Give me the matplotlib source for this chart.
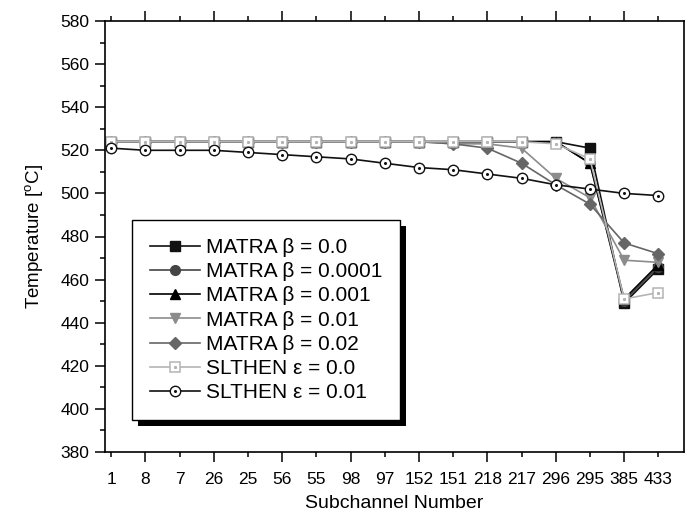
import matplotlib
matplotlib.use("Agg")
import matplotlib.pyplot as plt
from matplotlib.legend_handler import HandlerTuple
from matplotlib.patches import Rectangle

plt.rcParams['font.family'] = ['Liberation Sans', 'DejaVu Sans']
plt.rcParams['mathtext.fontset'] = 'custom'
plt.rcParams['mathtext.rm'] = 'Liberation Sans'

# subchannel labels along x (categorical)
subchannels = ['1', '8', '7', '26', '25', '56', '55', '98', '97', '152',
               '151', '218', '217', '296', '295', '385', '433']

matra_b00 = [524, 524, 524, 524, 524, 524, 524, 524, 524, 524, 524, 524, 524, 524, 521, 449, 465]
matra_b0001 = [524, 524, 524, 524, 524, 524, 524, 524, 524, 524, 524, 524, 524, 524, 514, 450, 466]
matra_b001 = [524, 524, 524, 524, 524, 524, 524, 524, 524, 524, 524, 524, 524, 524, 514, 451, 467]
matra_b01 = [524, 524, 524, 524, 524, 524, 524, 524, 524, 524, 523, 523, 521, 507, 498, 469, 468]
matra_b02 = [524, 524, 524, 524, 524, 524, 524, 524, 524, 524, 523, 521, 514, 504, 495, 477, 472]
slthen_e00 = [524, 524, 524, 524, 524, 524, 524, 524, 524, 524, 524, 524, 524, 523, 516, 451, 454]
slthen_e001 = [521, 520, 520, 520, 519, 518, 517, 516, 514, 512, 511, 509, 507, 504, 502, 500, 499]

x = list(range(1, len(subchannels) + 1))

fig = plt.figure(figsize=(6.9, 5.14), dpi=100)
ax = fig.add_axes([105/690, 1 - 452/514, (684 - 105)/690, (452 - 21)/514])

lw = 1.2
handles = []
h, = ax.plot(x, matra_b00, color='#111111', lw=lw, marker='s', ms=6.5, mec='#111111', mfc='#111111')
handles.append(h)
h, = ax.plot(x, matra_b0001, color='#444444', lw=lw, marker='o', ms=7, mec='#444444', mfc='#444444')
handles.append(h)
h, = ax.plot(x, matra_b001, color='#000000', lw=lw, marker='^', ms=7, mec='#000000', mfc='#000000')
handles.append(h)
h, = ax.plot(x, matra_b01, color='#8c8c8c', lw=lw, marker='v', ms=7.5, mec='#8c8c8c', mfc='#8c8c8c')
handles.append(h)
h, = ax.plot(x, matra_b02, color='#666666', lw=lw, marker='D', ms=6.5, mec='#666666', mfc='#666666')
handles.append(h)
h1, = ax.plot(x, slthen_e00, color='#b4b4b4', lw=lw, marker='s', ms=7, mec='#b4b4b4', mfc='white', mew=1.1)
h2, = ax.plot(x, slthen_e00, ls='none', marker='s', ms=1.2, mec='#b4b4b4', mfc='#b4b4b4')
handles.append((h1, h2))
h1, = ax.plot(x, slthen_e001, color='#111111', lw=lw, marker='o', ms=7.5, mec='#111111', mfc='white', mew=1.0)
h2, = ax.plot(x, slthen_e001, ls='none', marker='o', ms=1.2, mec='#111111', mfc='#111111')
handles.append((h1, h2))

names = ['MATRA \u03b2 = 0.0', 'MATRA \u03b2 = 0.0001', 'MATRA \u03b2 = 0.001',
         'MATRA \u03b2 = 0.01', 'MATRA \u03b2 = 0.02',
         'SLTHEN \u03b5 = 0.0', 'SLTHEN \u03b5 = 0.01']

ax.set_xlim(0.82, 17.75)
ax.set_ylim(380, 580)

# major ticks on even positions, minor on odd, all labelled
even = [i for i in x if i % 2 == 0]
odd = [i for i in x if i % 2 == 1]
ax.set_xticks(even, [subchannels[i - 1] for i in even])
ax.set_xticks(odd, [subchannels[i - 1] for i in odd], minor=True)
ax.set_yticks(range(380, 581, 20))
ax.set_yticks(range(390, 580, 20), minor=True)

ax.tick_params(axis='both', which='major', length=7, width=1.1, direction='out', labelsize=12.5)
ax.tick_params(axis='both', which='minor', length=3.8, width=1.1, direction='out', labelsize=12.5)
ax.tick_params(axis='x', which='major', pad=7.5)
ax.tick_params(axis='x', which='minor', pad=10.7)
ax.tick_params(axis='y', which='major', pad=4.3)
ax.tick_params(axis='x', which='both', top=True)
ax.tick_params(axis='y', which='both', right=False)
for s in ax.spines.values():
    s.set_linewidth(1.2)

ax.set_xlabel('Subchannel Number', fontsize=14, labelpad=6)
ax.set_ylabel('Temperature [$^{\\rm o}$C]', fontsize=13.5, labelpad=10)

leg = ax.legend(handles, names, loc='lower left', bbox_to_anchor=(0.0466, 0.0742),
                borderaxespad=0, fancybox=False, edgecolor='black', framealpha=1,
                fontsize=15, handlelength=2.4, handletextpad=0.3, labelspacing=0.25,
                borderpad=0.85, handler_map={tuple: HandlerTuple(ndivide=1)})
leg.get_frame().set_linewidth(1.0)
leg.set_zorder(5)

# solid black drop shadow behind the legend box
fig.canvas.draw()
bb = leg.get_window_extent().transformed(fig.transFigure.inverted())
off_x = 6 / 690
off_y = 6 / 514
shadow = Rectangle((bb.x0 + off_x, bb.y0 - off_y), bb.width, bb.height,
                   transform=fig.transFigure, facecolor='black', edgecolor='none', zorder=4)
ax.add_artist(shadow)
shadow.set_clip_on(False)

fig.savefig('out.png', dpi=100)
